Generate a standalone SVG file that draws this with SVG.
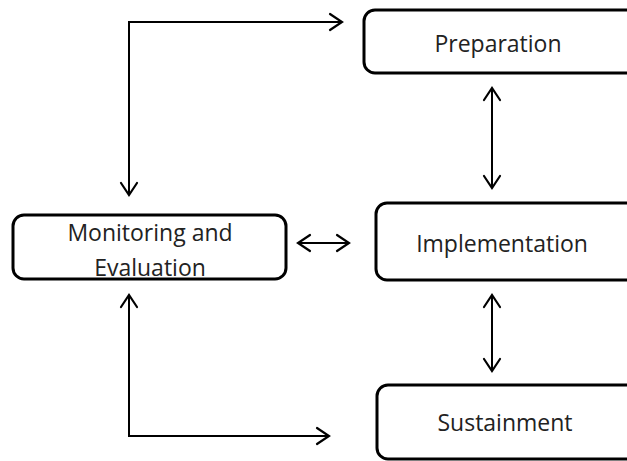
<svg xmlns="http://www.w3.org/2000/svg" width="627" height="461" viewBox="0 0 627 461">
<style>
.box{fill:#fff;stroke:#000;stroke-width:3}
.lbl{font-family:"Open Sans","Noto Sans",sans-serif;font-size:23px;fill:#222;text-anchor:middle}
.con{fill:none;stroke:#000;stroke-width:2}
</style>
<defs>
<marker id="ah" markerUnits="userSpaceOnUse" markerWidth="20" markerHeight="20" viewBox="-14 -10 16 20" refX="0" refY="0" orient="auto-start-reverse">
<path d="M-12,-8 L0,0 L-12,8" fill="none" stroke="#000" stroke-width="2.2" stroke-linecap="round"/>
</marker>
</defs>
<rect width="627" height="461" fill="#fff"/>
<g id="preparation">
<rect class="box" x="364" y="10" width="275" height="63" rx="11"/>
<text class="lbl" x="498" y="52">Preparation</text>
</g>
<g id="implementation">
<rect class="box" x="376" y="203" width="263" height="77" rx="11"/>
<text class="lbl" x="502" y="252">Implementation</text>
</g>
<g id="monitoring">
<rect class="box" x="13" y="215" width="273" height="64" rx="11"/>
<text class="lbl" x="150" y="241">Monitoring and</text>
<text class="lbl" x="150" y="276">Evaluation</text>
</g>
<g id="sustainment">
<rect class="box" x="377" y="385" width="262" height="74" rx="11"/>
<text class="lbl" x="505" y="431">Sustainment</text>
</g>
<g id="connectors">
<path class="con" d="M129,195 L129,22 L342,22" marker-start="url(#ah)" marker-end="url(#ah)"/>
<path class="con" d="M129,295 L129,436 L329,436" marker-start="url(#ah)" marker-end="url(#ah)"/>
<path class="con" d="M298,243 L349,243" marker-start="url(#ah)" marker-end="url(#ah)"/>
<path class="con" d="M492,88 L492,188" marker-start="url(#ah)" marker-end="url(#ah)"/>
<path class="con" d="M492,295 L492,371" marker-start="url(#ah)" marker-end="url(#ah)"/>
</g>
</svg>
